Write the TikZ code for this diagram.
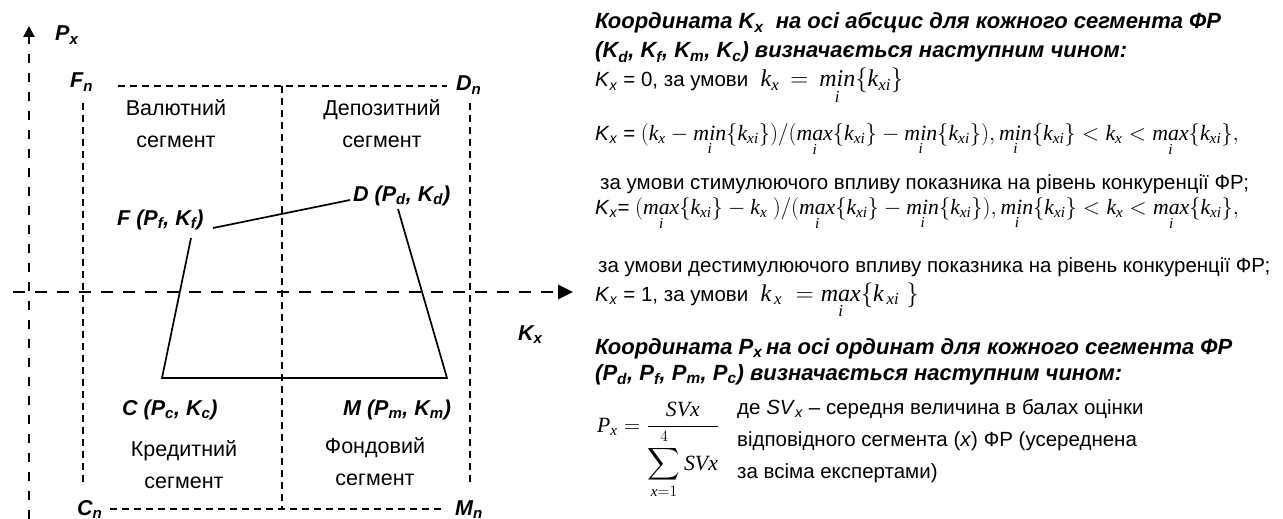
\documentclass[tikz,border=0pt]{standalone}
\usepackage{amsmath}
\usepackage{graphicx}
\usepackage{fontspec}
\setmainfont{Liberation Sans}
\newfontfamily\tnr{Liberation Serif}
\usetikzlibrary{arrows.meta}
\newcommand\kxx{\textit{k}_{\textit{x}}}
\newcommand\kxi{\{\textit{k}_{\textit{xi}}\}}
\newcommand\opmin{\mathop{\textit{min}}\limits_{\textit{i}}}
\newcommand\opmax{\mathop{\textit{max}}\limits_{\textit{i}}}
\newcommand\sub[1]{\textsubscript{#1}}
\begin{document}
\begin{tikzpicture}[x=1pt,y=-1pt,
  axisline/.style={line width=2.6pt, dash pattern=on 9pt off 10pt},
  haxisline/.style={line width=2.8pt, dash pattern=on 12pt off 10pt},
  gridline/.style={line width=1.6pt, dash pattern=on 7pt off 5pt},
  trap/.style={line width=1.7pt},
  lbl/.style={font=\fontsize{21.5}{26}\selectfont\bfseries\itshape, inner sep=0pt, anchor=base west},
  segtxt/.style={font=\fontsize{21.5}{32}\selectfont, align=center, inner sep=0pt},
  txt/.style={font=\fontsize{20.5}{24}\selectfont, inner sep=0pt, anchor=base west},
  hdr/.style={font=\fontsize{22}{26}\selectfont\bfseries\itshape, inner sep=0pt, anchor=base west},
  frm/.style={font=\tnr\fontsize{20}{24}\selectfont, inner sep=0pt, anchor=base west},
  bigfrm/.style={font=\tnr\fontsize{24}{28}\selectfont, inner sep=0pt, anchor=base west},
]
\path[use as bounding box] (0,0) rectangle (1283,519);

% axes
\coordinate (yb) at (29,519);
\coordinate (yt) at (29,26);
\coordinate (xl) at (13,292);
\coordinate (xr) at (573,292);
\draw[axisline, -{Triangle[length=11pt,width=11pt]}] (yb) -- (yt);
\draw[haxisline, -{Triangle[length=15pt,width=14pt]}] (xl) -- (xr);

% grid
\coordinate (tl) at (118,86);
\coordinate (tr) at (447,86);
\coordinate (tm) at (282,86);
\coordinate (bm) at (282,509);
\coordinate (bl) at (110,509);
\coordinate (br) at (443,509);
\coordinate (lt) at (83,103);
\coordinate (lb) at (83,483);
\coordinate (rt) at (470,103);
\coordinate (rb) at (470,483);
\draw[gridline] (tl) -- (tr);
\draw[gridline] (bl) -- (br);
\draw[gridline] (lt) -- (lb);
\draw[gridline] (rt) -- (rb);
\draw[gridline] (tm) -- (bm);

% trapezoid
\coordinate (Fa) at (213,228);
\coordinate (Da) at (350,200);
\coordinate (Fb) at (191,238);
\coordinate (Cc) at (162,378);
\coordinate (Mc) at (447,378);
\coordinate (Db) at (398,209);
\draw[trap] (Fa) -- (Da);
\draw[trap] (Fb) -- (Cc) -- (Mc) -- (Db);

% labels
\node[lbl] (px) at (55,41) {P\sub{x}};
\node[lbl] (fn) at (70,88) {F\sub{n}};
\node[lbl] (dn) at (456,91) {D\sub{n}};
\node[lbl] (cn) at (77,515) {C\sub{n}};
\node[lbl] (mn) at (455,515) {M\sub{n}};
\node[lbl] (kx) at (518,340) {K\sub{x}};
\node[lbl] (Dl) at (353,201) {D (P\sub{d}, K\sub{d})};
\node[lbl] (Fl) at (117,225) {F (P\sub{f}, K\sub{f})};
\node[lbl] (Cl) at (122,415) {C (P\sub{c}, K\sub{c})};
\node[lbl] (Ml) at (343,415) {M (P\sub{m}, K\sub{m})};

\node[segtxt] (val) at (176,124) {Валютний\\сегмент};
\node[segtxt] (dep) at (382,124) {Депозитний\\сегмент};
\node[segtxt] (kred) at (184,465) {Кредитний\\сегмент};
\node[segtxt] (fond) at (375,462) {Фондовий\\сегмент};

% right panel
\node[hdr] (h1) at (595,29) {Координата K\sub{x}\ \ на осі абсцис для кожного сегмента ФР};
\node[hdr] (h2) at (595,58) {(K\sub{d}, K\sub{f}, K\sub{m}, K\sub{c}) визначається наступним чином:};
\node[txt] (l3) at (595,87) {\textit{K}\sub{\textit{x}} = 0, за умови};
\node[bigfrm] (f3) at ([xshift=12pt]l3.base east) {$\kxx\,=\,\opmin\{\textit{k}_{\textit{xi}}\}$};
\node[txt] (l4) at (595,140) {\textit{K}\sub{\textit{x}} =};
\node[frm] (f4) at ([xshift=5pt]l4.base east) {\resizebox{598pt}{!}{$(\kxx - \opmin\kxi)/(\opmax\kxi - \opmin\kxi), \opmin\kxi < \kxx < \opmax\kxi,$}};
\node[txt] (l5) at (600,189) {за умови стимулюючого впливу показника на рівень конкуренції ФР;};
\node[txt] (l6) at (595,214) {\textit{K}\sub{\textit{x}}=};
\node[frm] (f6) at ([xshift=5pt]l6.base east) {\resizebox{604pt}{!}{$(\opmax\kxi - \kxx\ )/(\opmax\kxi - \opmin\kxi), \opmin\kxi < \kxx < \opmax\kxi,$}};
\node[txt] (l7) at (598,272) {за умови дестимулюючого впливу показника на рівень конкуренції ФР;};
\node[txt] (l8) at (595,301) {\textit{K}\sub{\textit{x}} = 1, за умови};
\node[bigfrm] (f8) at ([xshift=12pt]l8.base east) {$\textit{k}_{\,\textit{x}}\;=\opmax\{\textit{k}_{\,\textit{xi}}\;\}$};
\node[hdr] (h9) at (595,354) {Координата P\sub{x}\,на осі ординат для кожного сегмента ФР};
\node[hdr] (h10) at (595,380) {(P\sub{d}, P\sub{f}, P\sub{m}, P\sub{c}) визначається наступним чином:};
\node[frm] (f11) at (597,432) {\resizebox{122pt}{!}{$\textit{P}_{\textit{x}} = \dfrac{\textit{SVx}}{\displaystyle\sum_{\textit{x}=1}^{4}\textit{SVx}}$}};
\node[txt] (t1) at (737,414) {де \textit{SV}\sub{\textit{x}} – середня величина в балах оцінки};
\node[txt] (t2) at (737,446) {відповідного сегмента (\textit{x}) ФР (усереднена};
\node[txt] (t3) at (737,478) {за всіма експертами)};
\end{tikzpicture}
\end{document}
